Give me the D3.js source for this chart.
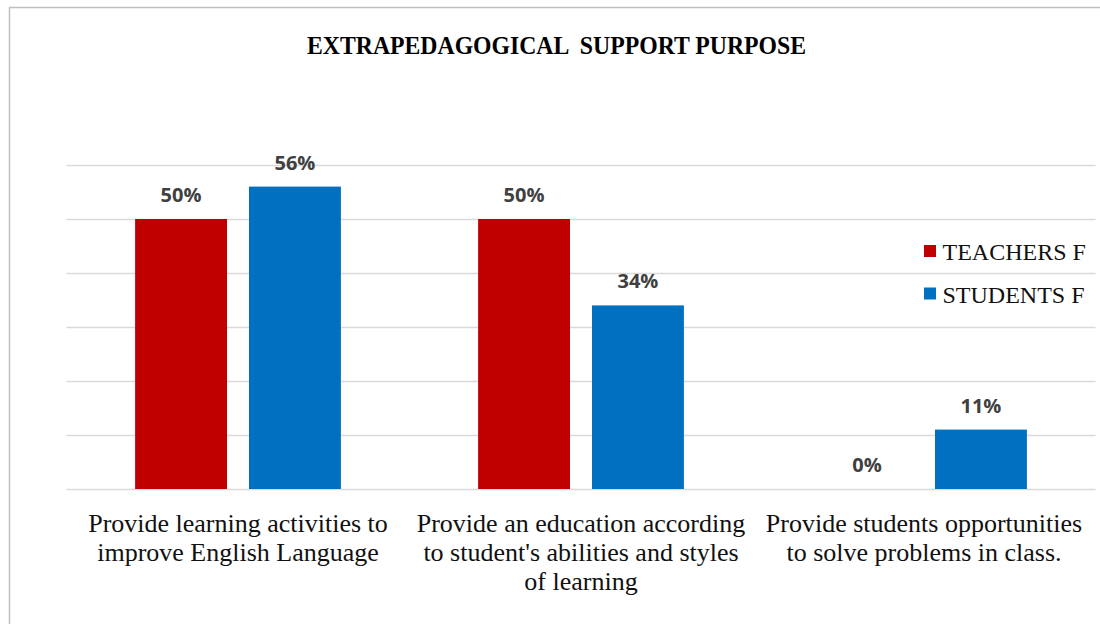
<!DOCTYPE html>
<html>
<head>
<meta charset="utf-8">
<script src="https://cdn.jsdelivr.net/npm/d3@7"></script>
<style>
  html, body { margin: 0; padding: 0; background: #fff; }
  svg { display: block; }
</style>
</head>
<body>
<svg id="chart" width="1100" height="624"></svg>
<script>
// Chart data
const title = "EXTRAPEDAGOGICAL  SUPPORT PURPOSE";
const categories = [
  "Provide learning activities to\nimprove English Language",
  "Provide an education according\nto student's abilities and styles\nof learning",
  "Provide students opportunities\nto solve problems in class."
];
const seriesNames = ["TEACHERS F", "STUDENTS F"];
const teachersValues = [0.50, 0.50, 0.00];
const studentsValues = [0.56, 0.34, 0.11];
const yTicks = [0, 0.1, 0.2, 0.3, 0.4, 0.5, 0.6];
const seriesColors = ["#C00000", "#0070C0"];

const seriesValues = [teachersValues, studentsValues];
const rows = categories.map((c, i) => ({
  category: c,
  values: seriesNames.map((s, j) => ({ series: s, value: seriesValues[j][i], color: seriesColors[j] }))
}));

const svg = d3.select("#chart");

// Outer frame
svg.append("rect")
  .attr("x", 9.5).attr("y", 7.5)
  .attr("width", 1110).attr("height", 640)
  .attr("fill", "none")
  .attr("stroke", "#bfbfbf")
  .attr("stroke-width", 1.5);

// Title
svg.append("text")
  .attr("x", 556.5).attr("y", 53.5)
  .attr("text-anchor", "middle")
  .attr("xml:space", "preserve")
  .style("white-space", "pre")
  .attr("font-family", "'Liberation Serif', 'Times New Roman', serif")
  .attr("font-weight", "bold")
  .attr("font-size", 25)
  .attr("textLength", 499)
  .attr("lengthAdjust", "spacingAndGlyphs")
  .attr("fill", "#000")
  .text(title);

// Scales
const plot = { left: 66.5, right: 1095.5, top: 165, bottom: 489 };
const x = d3.scaleBand()
  .domain(categories)
  .range([plot.left, plot.right])
  .paddingInner(0.4)
  .paddingOuter(0.2);
const xSub = d3.scaleBand()
  .domain(seriesNames)
  .range([0, x.bandwidth()])
  .paddingInner(0.193)
  .paddingOuter(0);
const y = d3.scaleLinear()
  .domain([0, 0.6])
  .range([plot.bottom, plot.top]);

// Horizontal gridlines (no tick labels shown)
const grid = svg.append("g")
  .attr("transform", `translate(${plot.left},0)`)
  .call(d3.axisLeft(y).tickValues(yTicks).tickSize(-(plot.right - plot.left)).tickFormat(""));
grid.select(".domain").remove();
grid.selectAll(".tick line").attr("stroke", "#d9d9d9").attr("stroke-width", 1.5);

// Bars
const groups = svg.append("g").selectAll("g")
  .data(rows)
  .join("g")
  .attr("transform", d => `translate(${x(d.category)},0)`);

groups.selectAll("rect")
  .data(d => d.values)
  .join("rect")
  .attr("x", d => xSub(d.series))
  .attr("y", d => y(d.value))
  .attr("width", xSub.bandwidth())
  .attr("height", d => y(0) - y(d.value))
  .attr("fill", d => d.color);

// Value labels
groups.selectAll("text.value")
  .data(d => d.values)
  .join("text")
  .attr("class", "value")
  .attr("x", d => xSub(d.series) + xSub.bandwidth() / 2)
  .attr("y", d => y(d.value) - 17)
  .attr("text-anchor", "middle")
  .attr("font-family", "'Open Sans', 'Liberation Sans', sans-serif")
  .attr("font-weight", "bold")
  .attr("font-size", 20)
  .attr("fill", "#404040")
  .text(d => d3.format(".0%")(d.value));

// Category labels (multi-line)
const catLabels = svg.append("g").selectAll("text")
  .data(categories)
  .join("text")
  .attr("x", d => x(d) + x.bandwidth() / 2)
  .attr("y", 531.5)
  .attr("text-anchor", "middle")
  .attr("font-family", "'Liberation Serif', 'Times New Roman', serif")
  .attr("font-size", 26)
  .attr("fill", "#111");
catLabels.selectAll("tspan")
  .data(d => d.split("\n"))
  .join("tspan")
  .attr("x", function () { return d3.select(this.parentNode).attr("x"); })
  .attr("dy", (d, i) => i === 0 ? 0 : 29)
  .text(d => d);

// Legend
const legend = svg.append("g").attr("transform", "translate(924,245)");
const legendItems = legend.selectAll("g")
  .data(seriesNames)
  .join("g")
  .attr("transform", (d, i) => `translate(0,${i * 42.5})`);
legendItems.append("rect")
  .attr("width", 12).attr("height", 12)
  .attr("fill", (d, i) => seriesColors[i]);
legendItems.append("text")
  .attr("x", 18.5).attr("y", 15)
  .attr("font-family", "'Liberation Serif', 'Times New Roman', serif")
  .attr("font-size", 24)
  .attr("fill", "#111")
  .text(d => d);
</script>
</body>
</html>
